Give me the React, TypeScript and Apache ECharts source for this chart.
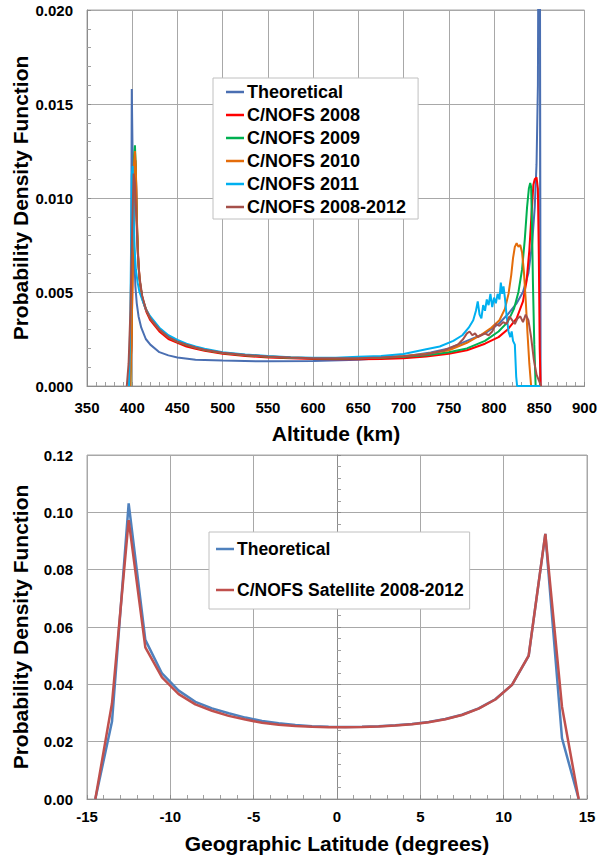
import React, { useEffect, useRef } from "react";
import * as echarts from "echarts";

// ---------- Top chart: altitude PDF ----------
const altTicks = [350, 900, 50];
const theoretical: [number, number][] = [
  [397, 0], [398.5, 0.002], [399.5, 0.0158], [400.5, 0.012], [401.5, 0.0088], [402.5, 0.0066],
  [403.5, 0.0053], [405, 0.0044], [407, 0.0037], [410, 0.0031], [415, 0.0025], [420, 0.0022],
  [430, 0.0018], [440, 0.00163], [450, 0.00152], [470, 0.0014], [500, 0.00135], [550, 0.00131],
  [600, 0.00133], [650, 0.0014], [700, 0.00157], [730, 0.00178], [750, 0.002], [770, 0.0024],
  [790, 0.0028], [805, 0.0033], [815, 0.0038], [825, 0.0044], [832, 0.005], [838, 0.006],
  [842, 0.0075], [845, 0.0095], [847, 0.0118], [848.5, 0.016], [849.5, 0.03], [850.5, 0.03], [851.5, 0],
];
const nofs2008: [number, number][] = [
  [397, 0], [399, 0.002], [401, 0.0075], [402.5, 0.0112], [403.5, 0.012], [404.5, 0.0105],
  [405.5, 0.0082], [407, 0.0064], [409, 0.0053], [412, 0.0045], [416, 0.0039], [420, 0.0035],
  [430, 0.0029], [440, 0.0025], [450, 0.0023], [460, 0.0021], [470, 0.00198], [480, 0.00188],
  [500, 0.00172], [525, 0.0016], [550, 0.00152], [575, 0.00147], [600, 0.00144], [625, 0.00142],
  [650, 0.00142], [675, 0.00144], [700, 0.00148], [725, 0.00157], [750, 0.00172], [770, 0.0019],
  [790, 0.00225], [805, 0.0026], [815, 0.003], [825, 0.0036], [832, 0.0045], [836, 0.0056],
  [839, 0.0072], [841.5, 0.0092], [843.5, 0.0107], [845, 0.011], [847, 0.0111], [848.5, 0.0105],
  [849.5, 0.007], [850.5, 0.002], [851.5, 0],
];
const nofs2009: [number, number][] = [
  [398, 0], [399.5, 0.004], [401, 0.0095], [402, 0.0122], [403, 0.0128], [404, 0.0115],
  [405, 0.0088], [406.5, 0.0068], [408, 0.0057], [411, 0.0047], [415, 0.0041], [420, 0.0036],
  [430, 0.003], [440, 0.0026], [450, 0.00235], [460, 0.00218], [470, 0.00203], [480, 0.00192],
  [500, 0.00176], [525, 0.00164], [550, 0.00156], [575, 0.0015], [600, 0.00147], [625, 0.00146],
  [650, 0.00147], [675, 0.0015], [700, 0.00155], [725, 0.00164], [750, 0.0018], [770, 0.002],
  [790, 0.0024], [805, 0.0029], [815, 0.0034], [822, 0.0041], [827, 0.005], [831, 0.0062],
  [834, 0.0078], [836.5, 0.0095], [838.5, 0.0105], [840, 0.0108], [841, 0.0106], [842, 0.0085],
  [843, 0.0055], [844.5, 0.0022], [846, 0],
];
const nofs2010: [number, number][] = [
  [398, 0], [399.5, 0.003], [401, 0.0085], [402, 0.0118], [403, 0.0125], [404, 0.0116],
  [405, 0.009], [406.5, 0.0068], [408, 0.0057], [411, 0.0047], [415, 0.0041], [420, 0.0036],
  [430, 0.003], [440, 0.0026], [450, 0.00236], [460, 0.0022], [470, 0.00205], [480, 0.00193],
  [500, 0.00177], [525, 0.00165], [550, 0.00157], [575, 0.00151], [600, 0.00148], [625, 0.00147],
  [650, 0.00148], [675, 0.00152], [700, 0.0016], [725, 0.0017], [750, 0.0019], [770, 0.0023],
  [785, 0.0027], [797, 0.0031], [806, 0.0035], [812, 0.0041], [816, 0.0049], [819, 0.0059],
  [821, 0.0068], [823, 0.0074], [825, 0.0076], [827, 0.0074], [829, 0.0075], [831, 0.0071],
  [833, 0.0061], [835, 0.0046], [837, 0.0028], [839, 0.0012], [841, 0],
];
const nofs2011: [number, number][] = [
  [396.5, 0], [398, 0.004], [399.5, 0.0112], [400.5, 0.0117], [401.5, 0.0095], [402.5, 0.0074],
  [404, 0.0062], [406, 0.0055], [408, 0.005], [411, 0.0046], [415, 0.0041], [420, 0.0037],
  [430, 0.0031], [440, 0.0027], [450, 0.00245], [460, 0.00225], [470, 0.0021], [480, 0.00198],
  [500, 0.0018], [525, 0.00168], [550, 0.00159], [575, 0.00153], [600, 0.0015], [625, 0.0015],
  [650, 0.00155], [675, 0.0016], [700, 0.0017], [725, 0.00195], [740, 0.0021], [755, 0.0024],
  [765, 0.0027], [772, 0.0031], [777, 0.0035], [780, 0.004], [782, 0.0045], [784, 0.0038],
  [786, 0.0036], [788, 0.0043], [790, 0.004], [792, 0.0046], [794, 0.0043], [796, 0.0049],
  [798, 0.0042], [800, 0.0047], [802, 0.0044], [804, 0.0049], [806, 0.0046], [807.5, 0.0055],
  [809, 0.0049], [810.5, 0.0053], [812, 0.0047], [814, 0.0037], [816, 0.0029], [818, 0.0026],
  [819.5, 0.0029], [821, 0.0024], [823, 0.0022], [824.5, 0.0005], [825.5, 0], [851, 0],
];
const nofsAll: [number, number][] = [
  [394, 0], [396, 0.0012], [398, 0.004], [400, 0.0085], [401.5, 0.0113], [403, 0.0108],
  [404.5, 0.009], [406, 0.0072], [408, 0.0058], [411, 0.0048], [415, 0.0041], [420, 0.0036],
  [430, 0.003], [440, 0.0026], [450, 0.00236], [460, 0.0022], [470, 0.00205], [480, 0.00193],
  [500, 0.00177], [525, 0.00165], [550, 0.00157], [575, 0.00151], [600, 0.00148], [625, 0.00147],
  [650, 0.00148], [675, 0.00152], [700, 0.00158], [725, 0.00168], [745, 0.0019], [760, 0.0022],
  [766, 0.0025], [770, 0.0028], [773, 0.0029], [776, 0.0027], [779, 0.0028], [782, 0.0026],
  [786, 0.0027], [790, 0.0028], [794, 0.0027], [798, 0.0029], [802, 0.0033], [806, 0.0032],
  [810, 0.0034], [814, 0.0033], [817, 0.0037], [820, 0.0035], [823, 0.0033], [826, 0.0036],
  [829, 0.0037], [832, 0.0034], [835, 0.0038], [838, 0.0035], [841, 0.0026], [844, 0.0014],
  [847, 0.0006], [852, 0],
];

// ---------- Bottom chart: latitude PDF ----------
const latitudes = [
  -14.5, -13.5, -12.5, -11.5, -10.5, -9.5, -8.5, -7.5, -6.5, -5.5, -4.5, -3.5, -2.5, -1.5, -0.5,
  0.5, 1.5, 2.5, 3.5, 4.5, 5.5, 6.5, 7.5, 8.5, 9.5, 10.5, 11.5, 12.5, 13.5, 14.5,
];
const latTheoretical = [
  0, 0.027, 0.1031, 0.0555, 0.0438, 0.0378, 0.0339, 0.0316, 0.0299, 0.0284, 0.0272, 0.0264, 0.0258,
  0.0254, 0.0252, 0.0251, 0.0252, 0.0254, 0.0257, 0.0262, 0.0269, 0.0279, 0.0294, 0.0316, 0.0348,
  0.0398, 0.0499, 0.0925, 0.0212, 0,
];
const latSatellite = [
  0, 0.0334, 0.0973, 0.0529, 0.0424, 0.0366, 0.033, 0.0308, 0.029, 0.0277, 0.0266, 0.0259, 0.0255,
  0.0252, 0.025, 0.025, 0.0251, 0.0253, 0.0256, 0.0261, 0.0268, 0.0278, 0.0293, 0.0315, 0.0347,
  0.0398, 0.05, 0.0925, 0.0322, 0,
];

const FONT = "'Liberation Sans', Arial, Helvetica, sans-serif";
const GRID_COLOR = "#a8a8a8";
const AXIS_COLOR = "#8c8c8c";

function axisCommon(min: number, max: number, interval: number, fmt: (v: number) => string, margin: number) {
  return {
    type: "value" as const,
    min,
    max,
    interval,
    axisLine: { show: true, lineStyle: { color: AXIS_COLOR, width: 1 } },
    axisTick: { show: true, inside: true, length: 4, lineStyle: { color: AXIS_COLOR } },
    minorTick: { show: true, splitNumber: 5, length: 4, lineStyle: { color: "#a0a0a0" } },
    splitLine: { show: true, lineStyle: { color: GRID_COLOR, width: 1 } },
    axisLabel: {
      formatter: fmt,
      fontFamily: FONT,
      fontWeight: "bold" as const,
      fontSize: 15,
      color: "#000",
      margin,
    },
  };
}

function lineSeries(name: string, data: any, color: string, xi: number, width = 2) {
  return {
    type: "line" as const,
    name,
    data,
    xAxisIndex: xi,
    yAxisIndex: xi,
    symbol: "none",
    showSymbol: false,
    clip: true,
    lineStyle: { color, width },
    itemStyle: { color },
  };
}

export default function App() {
  const ref = useRef<HTMLDivElement>(null);
  useEffect(() => {
    if (!ref.current) return;
    const chart = echarts.init(ref.current, undefined, { renderer: "svg" });
    const topLegendNames = [
      "Theoretical",
      "C/NOFS 2008",
      "C/NOFS 2009",
      "C/NOFS 2010",
      "C/NOFS 2011",
      "C/NOFS 2008-2012",
    ];
    chart.setOption({
      animation: false,
      backgroundColor: "#fff",
      grid: [
        { left: 87, top: 10, width: 499, height: 376, show: true, borderColor: GRID_COLOR, borderWidth: 1, backgroundColor: "transparent" },
        { left: 87, top: 455, width: 500, height: 344, show: true, borderColor: GRID_COLOR, borderWidth: 1, backgroundColor: "transparent" },
      ],
      xAxis: [
        { ...axisCommon(altTicks[0], altTicks[1], altTicks[2], (v: number) => String(v), 14), gridIndex: 0 },
        { ...axisCommon(-15, 15, 5, (v: number) => String(v), 10), gridIndex: 1 },
      ],
      yAxis: [
        { ...axisCommon(0, 0.02, 0.005, (v: number) => v.toFixed(3), 14), gridIndex: 0 },
        { ...axisCommon(0, 0.12, 0.02, (v: number) => v.toFixed(2), 14), gridIndex: 1 },
      ],
      legend: [
        {
          data: topLegendNames,
          orient: "vertical",
          left: 213,
          top: 78,
          icon: "rect",
          itemWidth: 18,
          itemHeight: 2.5,
          itemGap: 5,
          padding: [5, 12, 3, 13],
          backgroundColor: "#fff",
          borderColor: "#c0c0c0",
          borderWidth: 1,
          selectedMode: false,
          textStyle: { fontFamily: FONT, fontWeight: "bold", fontSize: 18, color: "#000", padding: [0, 0, 0, -2] },
        },
        {
          data: [
            { name: "Theoretical", itemStyle: { color: "#4f81bd" } },
            { name: "C/NOFS Satellite 2008-2012" },
          ],
          orient: "vertical",
          left: 209,
          top: 532,
          icon: "rect",
          itemWidth: 18,
          itemHeight: 2.5,
          itemGap: 23,
          padding: [8, 6, 10, 7],
          backgroundColor: "#fff",
          borderColor: "#c0c0c0",
          borderWidth: 1,
          selectedMode: false,
          textStyle: { fontFamily: FONT, fontWeight: "bold", fontSize: 17.5, color: "#000", padding: [0, 0, 0, -2] },
        },
      ],
      graphic: [
        {
          type: "text",
          x: 20,
          y: 198,
          rotation: Math.PI / 2,
          style: { text: "Probability Density Function", font: `bold 21px ${FONT}`, fill: "#000", textAlign: "center", textVerticalAlign: "middle" },
        },
        {
          type: "text",
          x: 336,
          y: 433,
          style: { text: "Altitude (km)", font: `bold 21px ${FONT}`, fill: "#000", textAlign: "center", textVerticalAlign: "middle" },
        },
        {
          type: "text",
          x: 20,
          y: 627,
          rotation: Math.PI / 2,
          style: { text: "Probability Density Function", font: `bold 21px ${FONT}`, fill: "#000", textAlign: "center", textVerticalAlign: "middle" },
        },
        {
          type: "text",
          x: 337,
          y: 843,
          style: { text: "Geographic Latitude (degrees)", font: `bold 21px ${FONT}`, fill: "#000", textAlign: "center", textVerticalAlign: "middle" },
        },
      ],
      series: [
        lineSeries("Theoretical", theoretical, "#4a6fb2", 0),
        lineSeries("C/NOFS 2008", nofs2008, "#ff0000", 0),
        lineSeries("C/NOFS 2009", nofs2009, "#00b050", 0),
        lineSeries("C/NOFS 2010", nofs2010, "#e46c0a", 0),
        lineSeries("C/NOFS 2011", nofs2011, "#00b0f0", 0),
        lineSeries("C/NOFS 2008-2012", nofsAll, "#a5504a", 0),
        lineSeries("Theoretical", latitudes.map((x, i) => [x, latTheoretical[i]]), "#4f81bd", 1, 2.5),
        lineSeries("C/NOFS Satellite 2008-2012", latitudes.map((x, i) => [x, latSatellite[i]]), "#c0504d", 1, 2.5),
      ],
    });
    return () => chart.dispose();
  }, []);
  return <div ref={ref} style={{ position: "fixed", left: 0, top: 0, width: 600, height: 855 }} />;
}
